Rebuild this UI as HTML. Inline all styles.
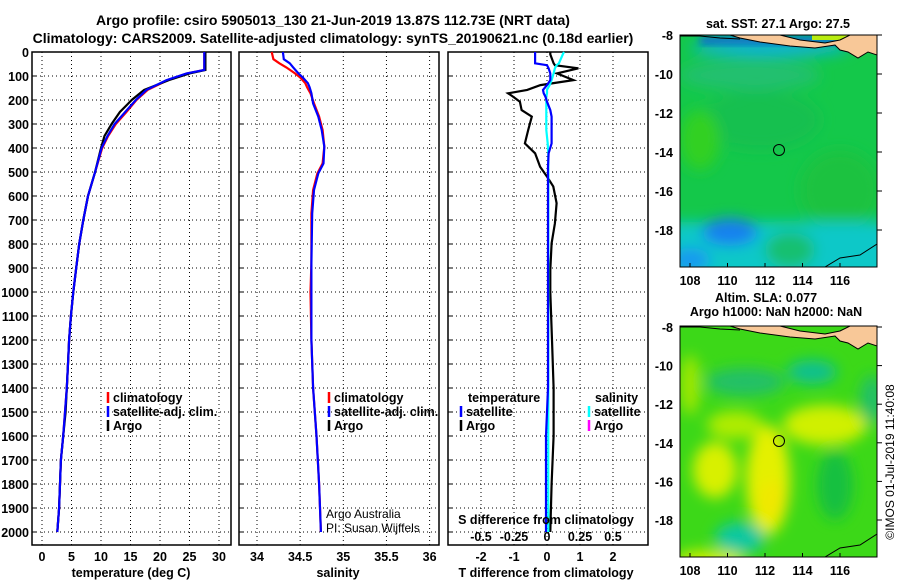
<!DOCTYPE html>
<html><head><meta charset="utf-8"><style>
html,body{margin:0;padding:0;background:#fff;}
svg{display:block;font-family:"Liberation Sans",sans-serif;}
.b{font-weight:bold;font-size:12.5px;}
.t{font-weight:bold;font-size:14px;}
</style></head><body>
<svg id="c" width="900" height="580" viewBox="0 0 900 580">
<defs>
<clipPath id="m1c"><rect x="680" y="35" width="197" height="232"/></clipPath>
<clipPath id="m2c"><rect x="680" y="326" width="197" height="231"/></clipPath>
<filter id="bl" x="-50%" y="-50%" width="200%" height="200%"><feGaussianBlur stdDeviation="7"/></filter>
<filter id="bl2" x="-50%" y="-50%" width="200%" height="200%"><feGaussianBlur stdDeviation="4"/></filter>
</defs>
<text class="t" x="333" y="25" text-anchor="middle">Argo profile: csiro 5905013_130 21-Jun-2019 13.87S 112.73E (NRT data)</text>
<text class="t" x="333" y="43" text-anchor="middle">Climatology: CARS2009. Satellite-adjusted climatology: synTS_20190621.nc (0.18d earlier)</text>

<g>
<text class="b" x="778" y="28" text-anchor="middle">sat. SST: 27.1 Argo: 27.5</text>
<g clip-path="url(#m1c)">
<rect x="680" y="35" width="197" height="232" fill="#14c84a"/>
<g filter="url(#bl)">
<ellipse cx="760" cy="120" rx="60" ry="30" fill="#18c050"/>
<ellipse cx="840" cy="190" rx="40" ry="40" fill="#1cc240"/>
<ellipse cx="700" cy="140" rx="20" ry="30" fill="#30d020"/>
<ellipse cx="750" cy="75" rx="70" ry="15" fill="#20c070"/>
<rect x="670" y="222" width="220" height="60" fill="#10c8c8"/>
<ellipse cx="730" cy="232" rx="28" ry="14" fill="#1880f0"/>
<ellipse cx="690" cy="260" rx="20" ry="12" fill="#1898f0"/>
<ellipse cx="790" cy="250" rx="25" ry="18" fill="#18c070"/>
<ellipse cx="770" cy="48" rx="80" ry="8" fill="#10b0e0"/>
</g>
<g filter="url(#bl2)"><rect x="700" y="37" width="140" height="7" fill="#1060d8"/></g>
<rect x="812" y="35" width="65" height="5" fill="#b8ec10"/>
<polygon points="730,35 780,35 800,40 825,43 840,40 850,35 877,35 877,55 868,52 858,58 848,52 840,50 835,45 815,48 790,46 760,42 740,38" fill="#f8c898" stroke="#000" stroke-width="1"/>
<polyline points="680,36 700,36 720,38 740,39" fill="none" stroke="#000" stroke-width="1"/>
<polyline points="825,267 840,258 860,255 877,244" fill="none" stroke="#000" stroke-width="1"/>
</g>
<rect x="680" y="35" width="197" height="232" fill="none" stroke="#000" stroke-width="1"/>
<circle cx="779" cy="150" r="5.5" fill="none" stroke="#000" stroke-width="1"/>
<g id="m1ticks"></g>
</g>

<g>
<text class="b" x="766" y="302" text-anchor="middle">Altim. SLA: 0.077</text>
<text class="b" x="776" y="316" text-anchor="middle">Argo h1000: NaN h2000: NaN</text>
<g clip-path="url(#m2c)">
<rect x="680" y="326" width="197" height="231" fill="#3cd818"/>
<g filter="url(#bl)">
<ellipse cx="715" cy="470" rx="22" ry="28" fill="#d8f000"/>
<ellipse cx="768" cy="480" rx="22" ry="55" fill="#e4f000"/>
<ellipse cx="772" cy="500" rx="14" ry="20" fill="#f0e800"/>
<ellipse cx="825" cy="425" rx="42" ry="20" fill="#d0f000"/>
<ellipse cx="735" cy="425" rx="28" ry="14" fill="#b0ec00"/>
<ellipse cx="740" cy="538" rx="25" ry="16" fill="#10c8a0"/>
<ellipse cx="745" cy="382" rx="40" ry="14" fill="#20c068"/>
<ellipse cx="812" cy="372" rx="25" ry="12" fill="#10c090"/>
<ellipse cx="872" cy="400" rx="12" ry="25" fill="#20c068"/>
<ellipse cx="835" cy="485" rx="18" ry="35" fill="#18c040"/>
<ellipse cx="710" cy="560" rx="35" ry="10" fill="#d0f000"/>
<ellipse cx="690" cy="385" rx="10" ry="30" fill="#a0e800"/>
</g>
<polygon points="730,326 780,326 800,331 825,334 840,331 850,326 877,326 877,346 868,343 858,349 848,343 840,341 835,336 815,339 790,337 760,333 740,329" fill="#f8c898" stroke="#000" stroke-width="1"/>
<polyline points="680,327 700,327 720,329 740,330" fill="none" stroke="#000" stroke-width="1"/>
<polyline points="825,557 840,548 860,545 877,534" fill="none" stroke="#000" stroke-width="1"/>
</g>
<rect x="680" y="326" width="197" height="231" fill="none" stroke="#000" stroke-width="1"/>
<circle cx="779" cy="441" r="5.5" fill="none" stroke="#000" stroke-width="1"/>
<g id="m2ticks"></g>
</g>
<text x="894" y="462" font-size="12" text-anchor="middle" transform="rotate(-90 894 462)">©IMOS 01-Jul-2019 11:40:08</text>

<g id="plots"></g>
</svg>
<script>
const depthT = [0,75,89,117,158,200,250,300,350,400,500,600,700,800,900,1000,1100,1200,1300,1400,1500,1600,1700,1800,1900,2000];
const tempClim = [27.5,27.5,24.6,21.3,17.9,16.0,14.3,12.5,11.2,10.2,9.0,7.8,7.0,6.3,5.8,5.3,4.9,4.6,4.4,4.2,3.9,3.6,3.2,3.05,2.9,2.6];
const tempSat  = [27.5,27.5,24.5,21.1,17.7,15.9,14.1,12.3,11.1,10.1,9.0,7.8,7.0,6.3,5.8,5.3,4.9,4.6,4.4,4.2,3.9,3.6,3.2,3.05,2.9,2.6];
const tempArgo = [27.7,27.7,25.0,21.5,17.3,15.2,13.2,11.8,10.6,10.0,9.0,7.8,7.0,6.3,5.8,5.3,4.9,4.6,4.4,4.2,4.0,3.6,3.2,3.05,2.9,2.6];
const depthS = [0,30,47,64,89,106,130,147,172,214,269,325,394,464,506,575,672,880,1000,1200,1400,1600,1800,2000];
const salClim = [34.17,34.19,34.26,34.34,34.44,34.50,34.56,34.58,34.62,34.66,34.72,34.76,34.78,34.76,34.70,34.65,34.63,34.63,34.62,34.63,34.65,34.69,34.72,34.74];
const salSat  = [34.30,34.31,34.38,34.42,34.48,34.53,34.59,34.61,34.63,34.65,34.71,34.75,34.78,34.77,34.71,34.66,34.64,34.63,34.63,34.63,34.65,34.69,34.72,34.74];
const depthD = [0,10,47,55,68,89,117,138,158,172,186,207,242,269,325,381,422,478,519,561,630,714,797,908,1000,1200,1400,1600,1800,2000];
const tDiffArgo = [0.1,0.1,0.2,0.24,0.95,0.3,0.8,-0.2,-0.6,-1.18,-1.03,-0.82,-0.77,-0.46,-0.57,-0.67,-0.36,-0.21,0,0.19,0.29,0.24,0.14,0.1,0.1,0.15,0.2,0.2,0.14,0.1];
const tDiffSat = [-0.36,-0.36,-0.36,0,0.05,0.1,0.1,0,-0.12,-0.1,-0.05,0,0.1,0.14,0.14,0.14,0.05,0.03,0.03,0.03,0.03,0.03,0.03,0.03,0.03,0.03,0.03,-0.03,-0.03,-0.03];
const sDiffSat = [0.129,0.12,0.09,0.073,0.06,0.05,0.035,0.02,0,0,-0.005,-0.005,-0.005,-0.005,-0.005,0.005,0.01,0.01,0.01,0.01,0.01,0.01,0.01,0.01,0.01,0.01,0.01,0.01,0.01,0.01];
const depthTicks = [0,100,200,300,400,500,600,700,800,900,1000,1100,1200,1300,1400,1500,1600,1700,1800,1900,2000];
const tempTicks = [0,5,10,15,20,25,30];
const salTicks = [34,34.5,35,35.5,36];
const tDiffTicks = [-2,-1,0,1,2];
const sDiffTicks = [-0.5,-0.25,0,0.25,0.5];
const lonTicks = [108,110,112,114,116];
const latTicks = [-8,-10,-12,-14,-16,-18];

const NS='http://www.w3.org/2000/svg';
const root=document.getElementById('plots');
function el(tag,attrs,parent,txt){const e=document.createElementNS(NS,tag);for(const k in attrs)e.setAttribute(k,attrs[k]);if(txt!==undefined)e.textContent=txt;(parent||root).appendChild(e);return e;}
const yD = d => 52 + d*0.24;
const xT = v => 42 + v*5.9;
const xS = v => 257 + (v-34)*86.3;
const xTD = v => 547 + v*33;
const xSD = v => 547 + v*132;
const TOP=52, BOT=545;

function panel(x0,x1,xs,ticks,name){
  const g=el('g',{});
  
  
  for(const t of ticks){const l=el('line',{x1:xs(t),x2:xs(t),y1:TOP,y2:BOT,stroke:'#000','stroke-width':1,'stroke-dasharray':'1,3'},g);
    }
  for(const d of depthTicks){if(d===0)continue;const l=el('line',{x1:x0,x2:x1,y1:yD(d),y2:yD(d),stroke:'#000','stroke-width':1,'stroke-dasharray':'1,3'},g);
    
    const tk=el('line',{x1:x0,x2:x0+4,y1:yD(d),y2:yD(d),stroke:'#000'},g);
    }
  const r=el('rect',{x:x0,y:TOP,width:x1-x0,height:BOT-TOP,fill:'none',stroke:'#000','stroke-width':1.5},g);
  
  return g;
}
function line(g,xs,xf,ys,color,name){
  const pts=xs.map((v,i)=>xf(v).toFixed(1)+','+yD(ys[i]).toFixed(1)).join(' ');
  const p=el('polyline',{points:pts,fill:'none',stroke:color,'stroke-width':2.2},g);
  
}
function tickLabels(g,ticks,xf,y){
  for(const t of ticks){const tx=el('text',{x:xf(t),y:y,'text-anchor':'middle',class:'b'},g,String(t));
    }
}
function legendEntry(g,x,y,color,label){
  const l=el('line',{x1:x,x2:x,y1:y-10,y2:y+1,stroke:color,'stroke-width':2.5},g);
  
  const t=el('text',{x:x+5,y:y,class:'b'},g,label);
  
}

const yl=el('g',{});


for(const d of depthTicks){const t=el('text',{x:29,y:yD(d)+5,'text-anchor':'end',class:'b'},yl,String(d));
  }

const g1=panel(32,231,xT,tempTicks,'temperature-panel');
line(g1,tempClim,xT,depthT,'#ff0000','temp-climatology-line');
line(g1,tempArgo,xT,depthT,'#000000','temp-argo-line');
line(g1,tempSat,xT,depthT,'#0000ff','temp-satellite-line');
tickLabels(g1,tempTicks,xT,561);
const a1=el('text',{x:131,y:577,'text-anchor':'middle',class:'b'},g1,'temperature (deg C)');

legendEntry(g1,108,402,'#ff0000','climatology');
legendEntry(g1,108,416,'#0000ff','satellite-adj. clim.');
legendEntry(g1,108,430,'#000000','Argo');

const g2=panel(239,439,xS,salTicks,'salinity-panel');
line(g2,salClim,xS,depthS,'#ff0000','sal-climatology-line');
line(g2,salSat,xS,depthS,'#0000ff','sal-satellite-line');
tickLabels(g2,salTicks,xS,561);
const a2=el('text',{x:338,y:577,'text-anchor':'middle',class:'b'},g2,'salinity');

legendEntry(g2,329,402,'#ff0000','climatology');
legendEntry(g2,329,416,'#0000ff','satellite-adj. clim.');
legendEntry(g2,329,430,'#000000','Argo');
const c1=el('text',{x:326,y:518,'font-size':12},g2,'Argo Australia');

const c2=el('text',{x:326,y:532,'font-size':12},g2,'PI: Susan Wijffels');


const g3=panel(448,648,xTD,tDiffTicks,'difference-panel');
line(g3,tDiffArgo,xTD,depthD,'#000000','tdiff-argo-line');
line(g3,sDiffSat,xSD,depthD,'#00ffff','sdiff-satellite-line');
line(g3,tDiffSat,xTD,depthD,'#0000ff','tdiff-satellite-line');
tickLabels(g3,tDiffTicks,xTD,561);
tickLabels(g3,sDiffTicks,xSD,541);
const s3=el('text',{x:546,y:524,'text-anchor':'middle',class:'b'},g3,'S difference from climatology');

const a3=el('text',{x:546,y:577,'text-anchor':'middle',class:'b'},g3,'T difference from climatology');

const lt=el('text',{x:468,y:402,class:'b'},g3,'temperature');

const ls=el('text',{x:595,y:402,class:'b'},g3,'salinity');

legendEntry(g3,461,416,'#0000ff','satellite');
legendEntry(g3,461,430,'#000000','Argo');
legendEntry(g3,589,416,'#00ffff','satellite');
legendEntry(g3,589,430,'#ff00ff','Argo');

function mapTicks(id,top,bot,latY){
  const g=document.getElementById(id);
  const lonX=v=>690+(v-108)*18.75;
  for(const v of lonTicks){
    el('line',{x1:lonX(v),x2:lonX(v),y1:bot,y2:bot-4,stroke:'#000'},g);
    const t=el('text',{x:lonX(v),y:bot+18,'text-anchor':'middle',class:'b'},g,String(v));
    
  }
  for(const v of latTicks){
    const y=latY(v);
    el('line',{x1:877,x2:882,y1:y,y2:y,stroke:'#000'},g);
    const t=el('text',{x:673,y:y+5,'text-anchor':'end',class:'b'},g,String(v));
    
  }
}
mapTicks('m1ticks',35,267,v=>35+(-8-v)*19.5);
mapTicks('m2ticks',326,557,v=>327+(-8-v)*19.3);
</script>
</body></html>
